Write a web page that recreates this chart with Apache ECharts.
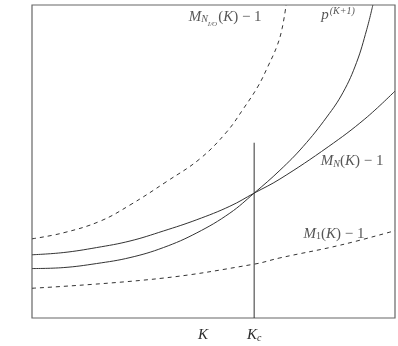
<!DOCTYPE html>
<html>
<head>
<meta charset="utf-8">
<script src="https://cdn.jsdelivr.net/npm/echarts@6/dist/echarts.min.js"></script>
<style>
html,body{margin:0;padding:0;background:#fff;}
#main{width:398px;height:346px;}
</style>
</head>
<body>
<div id="main"></div>
<script>
// curve samples (x and y both 0..100)
var mnX = [0, 8.6, 17.8, 27.0, 36.2, 45.4, 54.5, 61.2, 68.3, 81.6, 91.7, 100];
var mnY = [20.2, 20.9, 22.5, 24.6, 27.8, 31.4, 35.7, 39.9, 44.4, 54.7, 63.6, 72.5];

var pX = [0, 8.6, 17.8, 27.0, 36.2, 45.4, 54.5, 61.2, 68.3, 74.7, 81.2, 85.7, 89.4, 92.2, 93.9];
var pY = [15.8, 16.1, 17.4, 19.3, 22.5, 27.2, 33.5, 39.9, 47.2, 54.8, 64.2, 72.1, 81.6, 92.1, 100];

var nioX = [0, 8.6, 18.7, 27.0, 37.1, 46.3, 53.6, 58.2, 62.3, 65.0, 67.5, 68.9, 70.0];
var nioY = [25.3, 27.2, 30.9, 36.1, 43.6, 50.9, 59.4, 66.8, 74.1, 80.4, 86.9, 92.5, 100];

var m1X = [0, 35, 61.2, 68.3, 85, 100];
var m1Y = [9.5, 12.6, 17.2, 19.2, 23.3, 27.9];

// vertical marker at K_c
var kcX = [61.2, 61.2];
var kcY = [0, 56];

// x tick labels
var tickValues = [47.1, 61.2];
var tickLabels = ['{i|K}', '{i|K}{sub|c}'];

// curve labels
var noteX = [53.2, 84.3, 88.2, 83.2];
var noteY = [96.3, 96.8, 50.0, 26.9];
var noteText = [
  '{i|M}{sub|N}{subsub|I/O}{n|(}{i|K}{n|) − 1}',
  '{i|p}{sup|(K+1)}',
  '{i|M}{sub|N}{n|(}{i|K}{n|) − 1}',
  '{i|M}{subn|1}{n|(}{i|K}{n|) − 1}'
];

function zip(xs, ys){
  var out = [];
  for(var i=0;i<xs.length;i++){ out.push([xs[i], ys[i]]); }
  return out;
}

var serif = 'Liberation Serif';
var ink = '#2b2b2b';
var richStyles = {
  i:{fontFamily:serif, fontStyle:'italic', fontSize:15, lineHeight:22, color:ink},
  n:{fontFamily:serif, fontSize:15, lineHeight:22, color:ink},
  sub:{fontFamily:serif, fontStyle:'italic', fontSize:10, lineHeight:10, verticalAlign:'bottom', padding:[0,0,3,0], color:ink},
  subn:{fontFamily:serif, fontSize:10, lineHeight:10, verticalAlign:'bottom', padding:[0,0,3,0], color:ink},
  subsub:{fontFamily:serif, fontStyle:'italic', fontSize:7, lineHeight:7, verticalAlign:'bottom', padding:[0,1,0,0], color:ink},
  sup:{fontFamily:serif, fontStyle:'italic', fontSize:10, lineHeight:10, verticalAlign:'top', padding:[2,0,0,1], color:ink}
};

var myChart = echarts.init(document.getElementById('main'));

var lineStyle = {color:'#333', width:1};
var dashStyle = {color:'#333', width:1, type:[4,4]};

function curve(name, xs, ys, style){
  return {name:name, type:'line', data:zip(xs, ys), smooth:0.4,
          showSymbol:false, lineStyle:style, clip:true};
}

var options = {
  animation:false,
  grid:{left:32, top:5, width:363, height:316, show:true, borderColor:'#666', borderWidth:1.2, backgroundColor:'#fff'},
  xAxis:{
    type:'value', min:0, max:100,
    axisLine:{show:false}, axisTick:{show:false}, splitLine:{show:false},
    axisLabel:{
      customValues:tickValues,
      margin:6,
      formatter:function(v){
        var i = tickValues.indexOf(v);
        return i >= 0 ? tickLabels[i] : '';
      },
      rich:richStyles
    }
  },
  yAxis:{
    type:'value', min:0, max:100,
    axisLine:{show:false}, axisTick:{show:false}, splitLine:{show:false}, axisLabel:{show:false}
  },
  series:[
    curve('MN', mnX, mnY, lineStyle),
    curve('p', pX, pY, lineStyle),
    curve('NIO', nioX, nioY, dashStyle),
    curve('M1', m1X, m1Y, dashStyle),
    {name:'Kc', type:'line', data:zip(kcX, kcY), showSymbol:false, lineStyle:{color:'#333', width:1}},
    {
      name:'notes', type:'scatter', symbolSize:0, data:zip(noteX, noteY),
      label:{
        show:true, position:'inside',
        formatter:function(p){ return noteText[p.dataIndex]; },
        rich:richStyles
      }
    }
  ]
};
myChart.setOption(options);
</script>
</body>
</html>
